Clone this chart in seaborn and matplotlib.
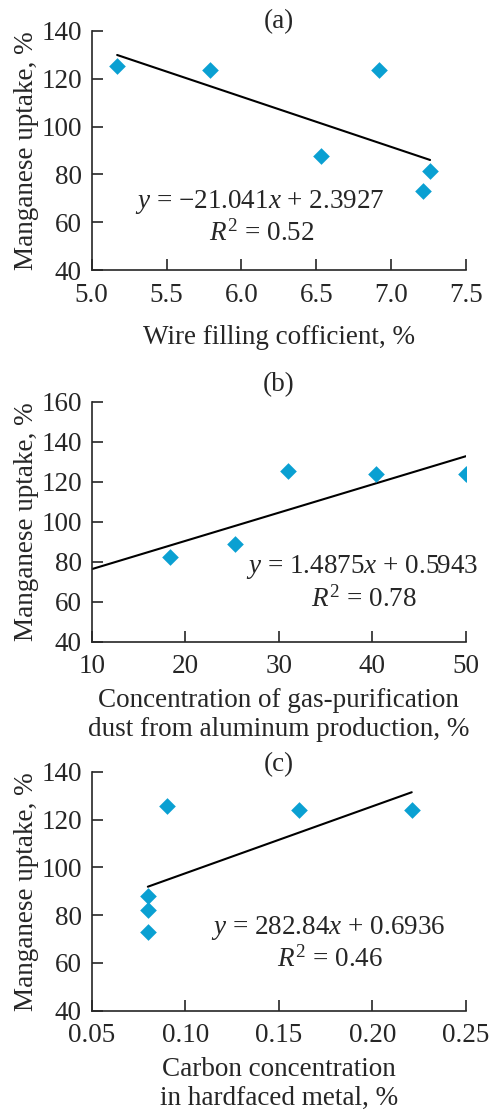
import numpy as np
import pandas as pd
import matplotlib
matplotlib.use("Agg")
import matplotlib.pyplot as plt
import seaborn as sns

# ---- data ----
a_x = [5.17, 5.79, 6.53, 6.92, 7.21, 7.26]
a_y = [125.5, 123.5, 87.8, 123.5, 72.9, 81.4]
b_x = [18.4, 25.3, 31.0, 40.4, 50.0]
b_y = [82.2, 88.7, 125.3, 124.0, 123.7]
c_x = [0.080, 0.080, 0.080, 0.090, 0.161, 0.221]
c_y = [72.8, 82.1, 88.0, 125.6, 124.0, 123.8]

a_xticks = [5.0, 5.5, 6.0, 6.5, 7.0, 7.5]
b_xticks = [10, 20, 30, 40, 50]
c_xticks = [0.05, 0.10, 0.15, 0.20, 0.25]
a_yticks = [40, 60, 80, 100, 120, 140]
b_yticks = [40, 60, 80, 100, 120, 140, 160]
c_yticks = [40, 60, 80, 100, 120, 140]

titles = ["(a)", "(b)", "(c)"]
xlabels = ["Wire filling cofficient, %",
           "Concentration of gas-purification\ndust from aluminum production, %",
           "Carbon concentration\nin hardfaced metal, %"]
ylabel = "Manganese uptake, %"
equations = ["$y$ = \u221221.041$x$ + 2.3927",
             "$y$ = 1.4875$x$ + 0.5943",
             "$y$ = 282.84$x$ + 0.6936"]
r2_texts = [r"$R^{\mathrm{2}}$ = 0.52", r"$R^{\mathrm{2}}$ = 0.78", r"$R^{\mathrm{2}}$ = 0.46"]

sns.set_style("ticks")
plt.rcParams['font.family'] = ['Liberation Serif', 'DejaVu Serif']
plt.rcParams['mathtext.fontset'] = 'custom'
plt.rcParams['mathtext.rm'] = 'Liberation Serif'
plt.rcParams['mathtext.it'] = 'Liberation Serif:italic'
plt.rcParams['mathtext.bf'] = 'Liberation Serif:bold'

FS = 19.5
COLOR = "#0aa0d2"

fig = plt.figure(figsize=(4.93, 11.13), dpi=100)
W, H = 493, 1113
left, right = 91.7, 466
boxes = [(31, 270), (401.7, 641.7), (771.7, 1010.7)]

datasets = [(a_x, a_y, a_xticks, a_yticks, True, "{:.1f}"),
            (b_x, b_y, b_xticks, b_yticks, False, "{:d}"),
            (c_x, c_y, c_xticks, c_yticks, True, "{:.2f}")]
eq_pos = [(0.45, 0.286, 0.155), (0.721, 0.31, 0.178), (0.632, 0.345, 0.216)]
title_off = [9, 17, 7]
xlabelpads = [12.5, 6, 6]

for i, ((xs, ys, xt, yt, trunc, fmt), (top, bot)) in enumerate(zip(datasets, boxes)):
    ax = fig.add_axes([left / W, 1 - bot / H, (right - left) / W, (bot - top) / H])
    ax.set_xlim(xt[0], xt[-1])
    ax.set_ylim(yt[0], yt[-1])
    df = pd.DataFrame({"x": xs, "y": ys})
    sns.regplot(data=df, x="x", y="y", ax=ax, ci=None, truncate=trunc,
                marker="D",
                scatter_kws=dict(s=72, color=COLOR, alpha=1, linewidths=0, zorder=3),
                line_kws=dict(color="black", lw=1.5, zorder=2))
    ax.set_xlim(xt[0], xt[-1])
    ax.set_ylim(yt[0], yt[-1])
    ax.set_xticks(xt)
    ax.set_xticklabels([fmt.format(v) for v in xt], fontsize=FS)
    ax.set_yticks(yt)
    ax.set_yticklabels([str(v) for v in yt], fontsize=FS)
    ax.tick_params(direction="in", length=8, width=1.2)
    ax.tick_params(axis="x", pad=9)
    ax.tick_params(axis="y", pad=7)
    sns.despine(ax=ax)
    for s in ["left", "bottom"]:
        ax.spines[s].set_linewidth(1.2)
    ax.set_xlabel(xlabels[i], fontsize=FS, labelpad=xlabelpads[i], linespacing=1.25)
    ax.set_ylabel(ylabel, fontsize=FS, labelpad=2)
    ax.text(0.5, 1 + title_off[i] / (bot - top), titles[i], transform=ax.transAxes,
            ha="center", va="center", fontsize=FS)
    ex, ey, ry = eq_pos[i]
    ax.text(ex, ey, equations[i], transform=ax.transAxes, ha="center", va="center", fontsize=FS)
    ax.text(ex + 0.005, ry, r2_texts[i], transform=ax.transAxes, ha="center", va="center", fontsize=FS)

fig.savefig("out.png", dpi=100)
